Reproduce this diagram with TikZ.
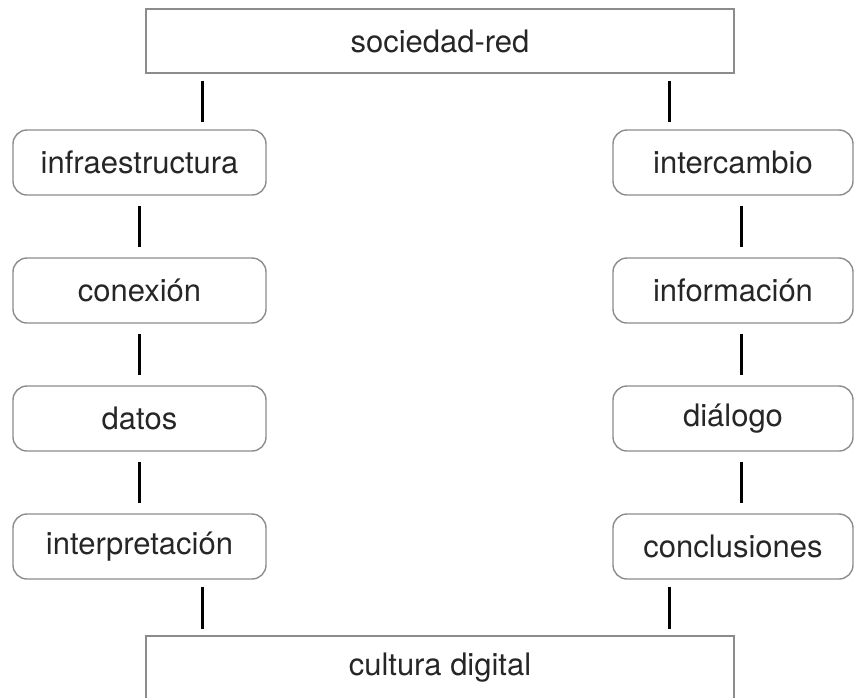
\documentclass[tikz,border=0pt]{standalone}
\usepackage{fontspec}
\setmainfont{TeX Gyre Heros}
\tikzset{
    caja/.style={draw=black!45, line width=1.4pt, inner sep=0pt,
        font=\fontsize{31}{36}\selectfont, text=black!85},
    marco/.style={caja, minimum width=588pt, minimum height=64pt},
    paso/.style={caja, rounded corners=14pt, minimum height=65pt},
    enlace/.style={line width=3pt, black}
}
\begin{document}
\begin{tikzpicture}[x=1pt, y=-1pt]
            \useasboundingbox (0,0) rectangle (855,697);
            % Extremos:
            \node[marco] (red) at (440,41) {sociedad-red};
            \node[marco] (cultura) at (440,668) {cultura digital};
            % Columna izquierda y derecha:
            \foreach \nombre/\texto [count=\i from 0] in {infra/infraestructura, conex/conexión, datos/datos, interp/interpretación}{%
                \node[paso, minimum width=253pt] (\nombre) at (139.5,162.5+128*\i) {\texto};
            }
            \foreach \nombre/\texto [count=\i from 0] in {inter/intercambio, info/información, dial/diálogo, concl/conclusiones}{%
                \node[paso, minimum width=240pt] (\nombre) at (733,162.5+128*\i) {\texto};
            }
            % Enlaces:
            \foreach \a/\b in {infra/conex, conex/datos, datos/interp}{%
                \draw[enlace, shorten <=10pt, shorten >=10pt] (\a.south) -- (\b.north);
            }
            \foreach \a/\b in {inter/info, info/dial, dial/concl}{%
                \draw[enlace, shorten <=10pt, shorten >=10pt] ([xshift=8pt]\a.south) -- ([xshift=8pt]\b.north);
            }
            \draw[enlace, shorten <=7pt, shorten >=7pt] ([xshift=57pt]red.south west) -- ([xshift=57pt]red.south west |- infra.north);
            \draw[enlace, shorten <=7pt, shorten >=7pt] ([xshift=-65pt]red.south east) -- ([xshift=-65pt]red.south east |- inter.north);
            \draw[enlace, shorten <=7pt, shorten >=6pt] ([xshift=57pt]cultura.north west |- interp.south) -- ([xshift=57pt]cultura.north west);
            \draw[enlace, shorten <=7pt, shorten >=6pt] ([xshift=-65pt]cultura.north east |- concl.south) -- ([xshift=-65pt]cultura.north east);
\end{tikzpicture}
\end{document}
